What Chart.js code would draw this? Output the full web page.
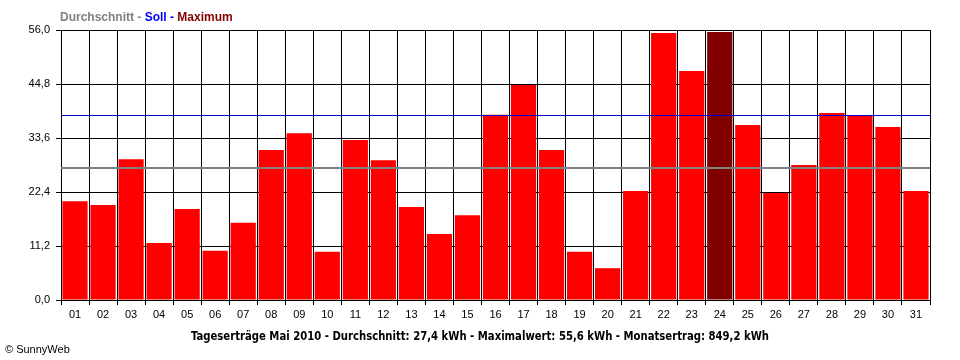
<!DOCTYPE html>
<html><head><meta charset="utf-8">
<script src="https://cdn.jsdelivr.net/npm/chart.js@4.4.1/dist/chart.umd.min.js"></script>
<style>html,body{margin:0;padding:0;background:#fff}canvas{display:block}</style>
</head><body>
<canvas id="c" width="960" height="360"></canvas>
<script>
const days = ['01','02','03','04','05','06','07','08','09','10','11','12','13','14','15','16','17','18','19','20','21','22','23','24','25','26','27','28','29','30','31'];
const yields = [20.5,19.7,29.2,11.8,18.9,10.2,16.0,31.1,34.6,10.0,33.2,29.0,19.3,13.7,17.6,38.4,44.6,31.1,10.0,6.6,22.6,55.4,47.5,55.6,36.3,22.2,28.0,38.8,38.2,35.9,22.6];
const yTicks = [0, 11.2, 22.4, 33.6, 44.8, 56.0];
const averageValue = 27.4;
const targetValue = 38.3;
const legendParts = [['Durchschnitt - ','#808080'],['Soll - ','#0000ff'],['Maximum','#800000']];
const titleText = 'Tageserträge Mai 2010 - Durchschnitt: 27,4 kWh - Maximalwert: 55,6 kWh - Monatsertrag: 849,2 kWh';
const creditText = '\u00A9 SunnyWeb';

const maxVal = Math.max(...yields);
const barColors = yields.map(v => v === maxVal ? '#800000' : '#ff0000');
const FONT = "'Liberation Sans', Arial, sans-serif";

const overlay = {
  id: 'overlay',
  afterDatasetsDraw(chart) {
    const ctx = chart.ctx, a = chart.chartArea, y = chart.scales.y;
    ctx.save();
    const drawH = (val, color, w) => {
      const py = Math.round(y.getPixelForValue(val)) + (w % 2 ? 0.5 : 0);
      ctx.strokeStyle = color; ctx.lineWidth = w;
      ctx.beginPath(); ctx.moveTo(a.left, py); ctx.lineTo(a.right, py); ctx.stroke();
    };
    drawH(averageValue, '#808080', 2);
    drawH(targetValue, '#0000cc', 1);
    ctx.restore();
  },
  afterDraw(chart) {
    const ctx = chart.ctx;
    ctx.save();
    ctx.textBaseline = 'alphabetic';
    ctx.textAlign = 'left';
    ctx.font = "bold 12px " + FONT;
    let x = 60;
    legendParts.forEach(([t, c]) => { ctx.fillStyle = c; ctx.fillText(t, x, 21); x += ctx.measureText(t).width; });
    ctx.fillStyle = '#000';
    ctx.font = "bold 12.5px 'Liberation Sans Narrow', 'DejaVu Sans Condensed', sans-serif";
    const w = ctx.measureText(titleText).width;
    const sx = 578 / w;
    ctx.save();
    ctx.translate(480, 337);
    ctx.scale(sx, 1);
    ctx.textAlign = 'center';
    ctx.textBaseline = 'middle';
    ctx.fillText(titleText, 0, 0);
    ctx.restore();
    ctx.font = "11px " + FONT;
    ctx.textAlign = 'left';
    ctx.textBaseline = 'alphabetic';
    ctx.fillText(creditText, 5, 353);
    ctx.restore();
  }
};

new Chart(document.getElementById('c'), {
  type: 'bar',
  data: { labels: days, datasets: [{ data: yields, backgroundColor: barColors, borderWidth: 0, barPercentage: 0.9, categoryPercentage: 1 }] },
  options: {
    responsive: false, animation: false,
    layout: { padding: { top: 30, right: 30, left: 0, bottom: 0 } },
    plugins: { legend: { display: false }, tooltip: { enabled: false } },
    scales: {
      x: {
        grid: { color: '#000', lineWidth: 1, tickLength: 5, offset: true },
        border: { color: '#000' },
        ticks: { color: '#000', font: { family: FONT, size: 11 }, maxRotation: 0, autoSkip: false, padding: 3 },
        afterFit(s) { s.height = 60; }
      },
      y: {
        min: 0, max: 56,
        afterBuildTicks(s) { s.ticks = yTicks.map(v => ({ value: v })); },
        grid: { color: '#000', lineWidth: 1, tickLength: 5 },
        border: { color: '#000' },
        ticks: { color: '#000', font: { family: FONT, size: 11 }, padding: 6, callback: v => Number(v).toFixed(1).replace('.', ',') },
        afterFit(s) { s.width = 61; }
      }
    }
  },
  plugins: [overlay]
});
</script>
</body></html>
